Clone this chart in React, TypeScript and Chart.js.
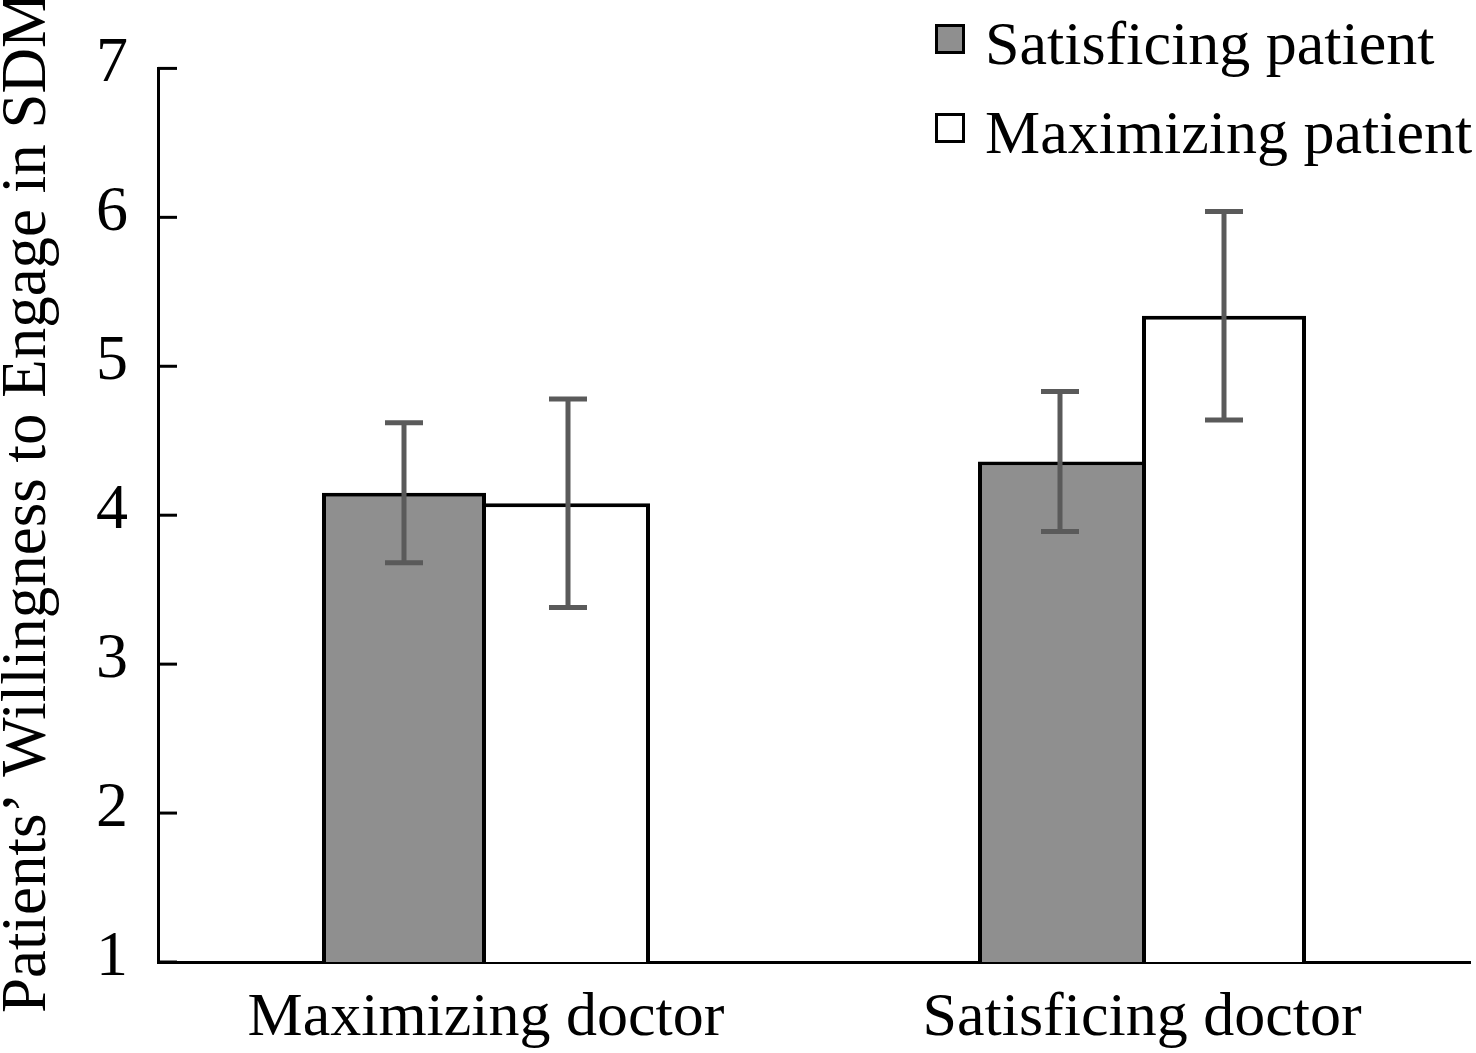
import { useEffect, useRef } from "react";
import { Chart, registerables } from "chart.js";

Chart.register(...registerables);

// data
const categories = ["Maximizing doctor", "Satisficing doctor"];
const seriesNames = ["Satisficing patient", "Maximizing patient"];
const satisficingMeans = [4.15, 4.36];
const maximizingMeans = [4.08, 5.34];
const satisficingErr = [0.47, 0.47];
const maximizingErr = [0.7, 0.7];
const yTicks = [1, 2, 3, 4, 5, 6, 7];
const yTitle = "Patients’ Willingness to Engage in SDM";

const FONT = "'Liberation Serif', 'Times New Roman', serif";
const GRAY = "#8f8f8f";
const ERR_COLOR = "#5a5a5a";
const BAR_BORDER = 4;

// only one border between two touching bars: the taller bar keeps the shared side
function borderFor(own: number[], other: number[], side: "left" | "right") {
  return (ctx: any) => {
    const i = ctx.dataIndex;
    const shared = side === "right" ? own[i] >= other[i] : own[i] > other[i];
    return {
      top: BAR_BORDER,
      left: side === "left" && !shared ? 0 : BAR_BORDER,
      right: side === "right" && !shared ? 0 : BAR_BORDER,
      bottom: 0,
    };
  };
}

const overlayPlugin = {
  id: "overlay",
  afterDatasetsDraw(chart: any) {
    const { ctx } = chart;
    const y = chart.scales.y;
    const errs = [satisficingErr, maximizingErr];
    ctx.save();
    ctx.strokeStyle = ERR_COLOR;
    ctx.lineWidth = 5;
    chart.data.datasets.forEach((ds: any, di: number) => {
      chart.getDatasetMeta(di).data.forEach((bar: any, i: number) => {
        const v = ds.data[i] as number;
        const top = y.getPixelForValue(v + errs[di][i]);
        const bot = y.getPixelForValue(v - errs[di][i]);
        ctx.beginPath();
        ctx.moveTo(bar.x, top);
        ctx.lineTo(bar.x, bot);
        ctx.moveTo(bar.x - 19, top);
        ctx.lineTo(bar.x + 19, top);
        ctx.moveTo(bar.x - 19, bot);
        ctx.lineTo(bar.x + 19, bot);
        ctx.stroke();
      });
    });
    ctx.restore();
  },
  afterDraw(chart: any) {
    const { ctx, chartArea } = chart;
    const y = chart.scales.y;
    ctx.save();

    // inward tick marks on the y axis
    ctx.strokeStyle = "#000";
    ctx.lineWidth = 3;
    y.ticks.forEach((_t: any, i: number) => {
      const py = y.getPixelForTick(i);
      ctx.beginPath();
      ctx.moveTo(chartArea.left, py);
      ctx.lineTo(chartArea.left + 19, py);
      ctx.stroke();
    });

    // y axis title, rotated
    ctx.fillStyle = "#000";
    ctx.font = `63px ${FONT}`;
    ctx.textAlign = "left";
    ctx.textBaseline = "alphabetic";
    ctx.save();
    ctx.translate(45, chartArea.bottom + 51);
    ctx.rotate(-Math.PI / 2);
    ctx.fillText(yTitle, 0, 0);
    ctx.restore();

    // legend, top right
    ctx.font = `62px ${FONT}`;
    const fills = [GRAY, "#ffffff"];
    const rows = [39, 128];
    seriesNames.forEach((name, i) => {
      ctx.fillStyle = fills[i];
      ctx.fillRect(935, rows[i] - 15, 30, 30);
      ctx.strokeStyle = "#000";
      ctx.lineWidth = 3;
      ctx.strokeRect(936.5, rows[i] - 13.5, 27, 27);
      ctx.fillStyle = "#000";
      ctx.fillText(name, 985, rows[i] + 25);
    });
    ctx.restore();
  },
};

function SdmChart() {
  const canvasRef = useRef<HTMLCanvasElement>(null);
  const chartRef = useRef<Chart | null>(null);

  useEffect(() => {
    if (!canvasRef.current) return;
    document.body.style.margin = "0";

    chartRef.current = new Chart(canvasRef.current, {
      type: "bar",
      data: {
        labels: categories,
        datasets: [
          {
            label: seriesNames[0],
            data: satisficingMeans,
            backgroundColor: GRAY,
            borderColor: "#000",
            borderWidth: borderFor(satisficingMeans, maximizingMeans, "right") as any,
            borderSkipped: false,
          },
          {
            label: seriesNames[1],
            data: maximizingMeans,
            backgroundColor: "#ffffff",
            borderColor: "#000",
            borderWidth: borderFor(maximizingMeans, satisficingMeans, "left") as any,
            borderSkipped: false,
          },
        ],
      },
      options: {
        animation: false,
        responsive: true,
        maintainAspectRatio: false,
        layout: { padding: { top: 66, right: 6, bottom: 0, left: 0 } },
        datasets: {
          bar: { categoryPercentage: 0.5, barPercentage: 1.0, inflateAmount: 0 },
        },
        plugins: {
          legend: { display: false },
          tooltip: { enabled: false },
        },
        scales: {
          x: {
            grid: { display: false, drawTicks: false },
            border: { display: true, color: "#000", width: 3 },
            ticks: {
              color: "#000",
              padding: 20,
              font: { family: FONT, size: 62 },
              maxRotation: 0,
            },
            afterFit: (scale: any) => {
              scale.height = 91;
            },
          },
          y: {
            min: yTicks[0],
            max: yTicks[yTicks.length - 1],
            grid: { display: false, drawTicks: false },
            border: { display: true, color: "#000", width: 3 },
            ticks: {
              color: "#000",
              padding: 30,
              labelOffset: -4,
              font: { family: FONT, size: 64 },
            },
            afterBuildTicks: (scale: any) => {
              scale.ticks = yTicks.map((v) => ({ value: v }));
            },
            afterFit: (scale: any) => {
              scale.width = 158;
            },
          },
        },
      },
      plugins: [overlayPlugin],
    });

    return () => {
      if (chartRef.current) {
        chartRef.current.destroy();
        chartRef.current = null;
      }
    };
  }, []);

  return (
    <div style={{ width: 1476, height: 1053, position: "relative" }}>
      <canvas ref={canvasRef} />
    </div>
  );
}

export default function App() {
  return <SdmChart />;
}
